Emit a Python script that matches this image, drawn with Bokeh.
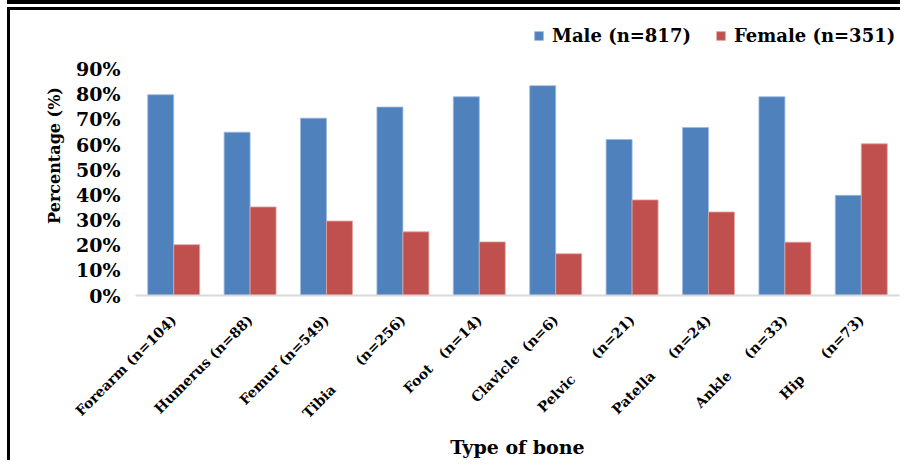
from bokeh.plotting import figure
from bokeh.models import (ColumnDataSource, FactorRange, Range1d, FixedTicker,
                          PrintfTickFormatter, Legend, LegendItem)
from bokeh.transform import dodge
from bokeh.embed import file_html
from bokeh.resources import INLINE
from math import pi

NB = "\u00a0"
categories = ["Forearm (n=104)", "Humerus (n=88)", "Femur (n=549)",
              "Tibia" + NB * 6 + " (n=256)", "Foot" + NB * 2 + " (n=14)",
              "Clavicle" + NB + " (n=6)", "Pelvic" + NB * 5 + " (n=21)",
              "Patella" + NB * 4 + " (n=24)", "Ankle" + NB * 4 + " (n=33)",
              "Hip" + NB * 5 + " (n=73)"]
male = [79.8, 64.9, 70.5, 74.9, 79.0, 83.4, 62.0, 66.8, 79.0, 39.8]
female = [20.2, 35.2, 29.6, 25.3, 21.3, 16.6, 38.0, 33.2, 21.2, 60.3]
y_ticks = [0, 10, 20, 30, 40, 50, 60, 70, 80, 90]
series_labels = ["Male (n=817)", "Female (n=351)"]

BLUE = "#4F81BD"
RED = "#C0504D"
FONT = "DejaVu Serif"

src = ColumnDataSource(dict(cat=categories, male=male, female=female))

# page frame lines (top double line, left line) drawn as the element background
frame_css = ("linear-gradient(#000,#000) 7px 0px / 100% 4px no-repeat, "
             "linear-gradient(#000,#000) 7px 7px / 100% 3px no-repeat, "
             "linear-gradient(#000,#000) 7px 7px / 3px 100% no-repeat, #fff")

p = figure(width=900, height=460, output_backend="svg", toolbar_location=None,
           x_range=FactorRange(*categories, range_padding=0, factor_padding=0),
           y_range=Range1d(0, 111.3),
           min_border_left=135, min_border_right=1, min_border_top=15,
           min_border_bottom=163,
           styles={"background": frame_css})

rm = p.vbar(x=dodge("cat", -0.17, range=p.x_range), top="male", width=0.34,
            source=src, fill_color=BLUE, line_color="#9DB9DE", line_width=0.8)
rf = p.vbar(x=dodge("cat", 0.17, range=p.x_range), top="female", width=0.34,
            source=src, fill_color=RED, line_color="#E3A3A1", line_width=0.8)

p.outline_line_color = None
p.xgrid.grid_line_color = None
p.ygrid.grid_line_color = None
p.background_fill_color = None
p.border_fill_color = None

# y axis
p.yaxis.ticker = FixedTicker(ticks=y_ticks)
p.yaxis.formatter = PrintfTickFormatter(format="%d%%")
p.yaxis.axis_line_color = None
p.yaxis.major_tick_line_color = None
p.yaxis.minor_tick_line_color = None
p.yaxis.major_label_text_font = FONT
p.yaxis.major_label_text_font_style = "bold"
p.yaxis.major_label_text_font_size = "19px"
p.yaxis.major_label_text_color = "black"
p.yaxis.major_label_standoff = 9
p.yaxis.axis_label = "Percentage (%)"
p.yaxis.axis_label_text_font = FONT
p.yaxis.axis_label_text_font_style = "bold"
p.yaxis.axis_label_text_font_size = "16px"
p.yaxis.axis_label_text_color = "black"
p.yaxis.axis_label_standoff = 9

# x axis
p.xaxis.axis_line_color = "#D9D9D9"
p.xaxis.axis_line_width = 2
p.xaxis.major_tick_line_color = None
p.xaxis.minor_tick_line_color = None
p.xaxis.major_label_orientation = pi / 4
p.xaxis.major_label_text_font = FONT
p.xaxis.major_label_text_font_style = "bold"
p.xaxis.major_label_text_font_size = "14px"
p.xaxis.major_label_text_color = "black"
p.xaxis.major_label_standoff = 16
p.xaxis.axis_label = "Type of bone"
p.xaxis.axis_label_text_font = FONT
p.xaxis.axis_label_text_font_style = "bold"
p.xaxis.axis_label_text_font_size = "19px"
p.xaxis.axis_label_text_color = "black"
p.xaxis.axis_label_standoff = 6

legend = Legend(items=[LegendItem(label=series_labels[0], renderers=[rm]),
                       LegendItem(label=series_labels[1], renderers=[rf])],
                orientation="horizontal", location=(398, 249),
                padding=0, margin=0, spacing=24, label_standoff=8,
                glyph_width=11, glyph_height=11,
                label_text_font=FONT, label_text_font_style="bold",
                label_text_font_size="18px", label_text_color="black",
                border_line_color=None, background_fill_alpha=0)
p.add_layout(legend)

open("out.html", "w").write(file_html(p, INLINE))
